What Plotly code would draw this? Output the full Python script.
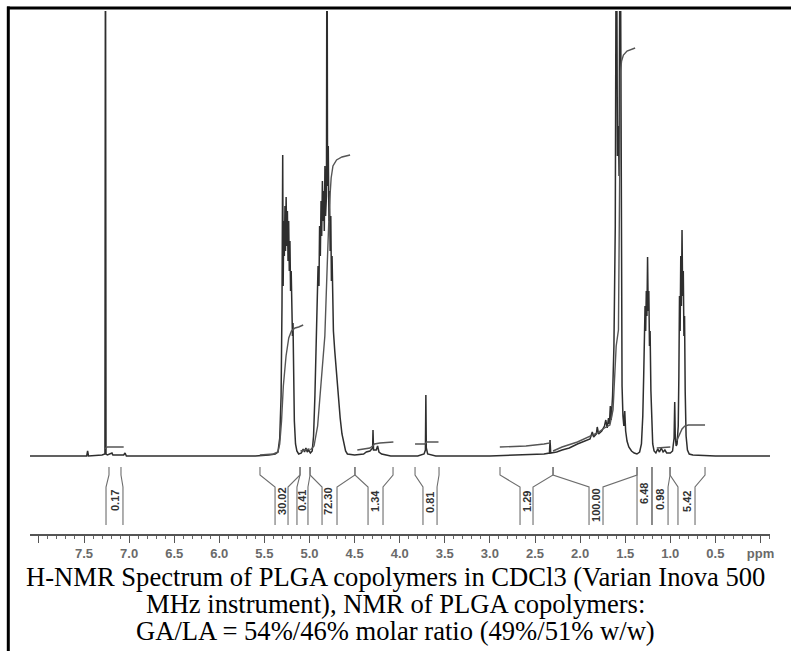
import plotly.graph_objects as go

# ---------------- data (ppm, intensity in arbitrary units, baseline = 0) ----------------
spec_ppm = [8.10, 7.50, 7.47, 7.46, 7.45, 7.30, 7.275, 7.268, 7.262, 7.256, 7.24, 7.20, 7.19, 7.18,
            7.06, 7.045, 7.03, 6.00, 5.60, 5.45, 5.38, 5.35, 5.33, 5.315, 5.305, 5.297, 5.292,
            5.285, 5.279, 5.272, 5.266, 5.259, 5.252, 5.245, 5.238, 5.231, 5.224, 5.217, 5.21,
            5.203, 5.196, 5.189, 5.183, 5.177, 5.168, 5.155, 5.14, 5.12, 5.09, 5.07, 5.055, 5.04,
            5.025, 5.01, 4.99, 4.97, 4.955, 4.94, 4.925, 4.915, 4.905, 4.895, 4.888, 4.88, 4.872,
            4.865, 4.857, 4.85, 4.843, 4.836, 4.829, 4.822, 4.812, 4.806, 4.80, 4.792, 4.785,
            4.778, 4.771, 4.764, 4.757, 4.75, 4.743, 4.735, 4.72, 4.70, 4.68, 4.66, 4.64, 4.62,
            4.60, 4.58, 4.50, 4.40, 4.37, 4.33, 4.30, 4.296, 4.29, 4.26, 4.245, 4.23, 4.20, 4.10,
            3.80, 3.73, 3.715, 3.71, 3.705, 3.69, 3.60, 3.00, 2.70, 2.50, 2.40, 2.34, 2.333, 2.326,
            2.26, 2.20, 2.12, 2.03, 1.95, 1.89, 1.865, 1.85, 1.82, 1.81, 1.795, 1.76, 1.73, 1.715,
            1.70, 1.685, 1.675, 1.665, 1.655, 1.64, 1.625, 1.61, 1.598, 1.586, 1.575, 1.568,
            1.556, 1.545, 1.535, 1.525, 1.515, 1.505, 1.495, 1.48, 1.46, 1.43, 1.40, 1.37, 1.34,
            1.32, 1.305, 1.295, 1.287, 1.28, 1.273, 1.266, 1.259, 1.252, 1.245, 1.238, 1.231,
            1.224, 1.215, 1.205, 1.195, 1.18, 1.16, 1.14, 1.12, 1.10, 1.08, 1.06, 1.04, 1.00,
            0.975, 0.958, 0.951, 0.945, 0.935, 0.925, 0.912, 0.905, 0.898, 0.891, 0.884, 0.877,
            0.870, 0.863, 0.856, 0.849, 0.842, 0.835, 0.825, 0.81, 0.79, 0.75, 0.50, -0.11]
spec_int = [0, 0, 0, 5, 0, 1, 2, 2, 600, 2, 1, 3, 3, 1,
            1, 3, 0, 0, 0, 1, 2, 4, 18, 60, 150, 301, 170,
            235, 200, 250, 205, 259, 210, 245, 195, 235, 185, 215, 165,
            185, 140, 120, 133, 70, 35, 12, 5, 2, 3, 7, 4, 8,
            4, 6, 3, 5, 20, 60, 110, 150, 190, 170, 230, 200, 255,
            220, 275, 235, 265, 225, 290, 240, 260, 600, 270, 310, 235,
            265, 205, 240, 175, 200, 140, 125, 105, 82, 58, 38, 22, 12,
            5, 2, 1, 2, 4, 5, 8, 26, 6, 6, 10, 4, 2, 0,
            0, 2, 6, 61, 8, 2, 0, 0, 1, 1, 2, 3, 16, 3,
            4, 6, 8, 12, 15, 17, 24, 19, 22, 29, 22, 25, 30, 36,
            28, 38, 32, 50, 36, 60, 110, 230, 600, 300, 330, 280,
            600, 170, 70, 40, 30, 45, 25, 15, 9, 5, 3, 2, 4,
            12, 40, 80, 130, 150, 125, 165, 140, 199, 145, 165, 110,
            125, 65, 30, 12, 5, 3, 7, 4, 8, 4, 6, 3, 3,
            5, 18, 54, 20, 10, 12, 30, 80, 160, 125, 200, 150,
            226, 160, 185, 120, 140, 65, 20, 6, 2, 1, 0, 0]

# integral curves (None separates regions)
integ_ppm = [7.275, 7.262, 7.24, 7.06, None,
             5.55, 5.40, 5.35, 5.33, 5.31, 5.29, 5.26, 5.23, 5.20, 5.16, 5.12, 5.07, None,
             5.10, 5.00, None,
             4.99, 4.95, 4.91, 4.87, 4.83, 4.80, 4.78, 4.76, 4.74, 4.70, 4.64, 4.55, None,
             4.47, 4.33, 4.30, 4.28, 4.22, 4.07, None,
             3.83, 3.72, 3.70, 3.57, None,
             2.89, 2.60, 2.40, 2.335, 2.33, None,
             2.30, 2.20, 2.03, 1.90, 1.81, 1.73, 1.67, 1.635, 1.62, 1.60, 1.575, 1.56, 1.552,
             1.54, 1.52, 1.48, 1.43, 1.39, None,
             1.15, 1.00, None,
             0.93, 0.90, 0.87, 0.84, 0.80, 0.615]
integ_int = [7, 8, 9, 9, None,
             1, 2, 4, 12, 35, 70, 100, 118, 125, 128, 129, 131, None,
             5, 7, None,
             6, 10, 30, 75, 120, 200, 250, 278, 290, 296, 299, 301, None,
             6, 8, 10, 12, 13, 14, None,
             12, 12, 14, 14, None,
             9, 10, 12, 13, 16, None,
             5, 9, 14, 19, 23, 28, 31, 46, 80, 110, 126, 300, 385,
             395, 401, 405, 407, 408, None,
             8, 9, None,
             15, 22, 27, 30, 31, 31]

# integration regions
int_labels = ["0.17", "30.02", "0.41", "72.30", "1.34", "0.81", "1.29", "100.00", "6.48", "0.98", "5.42"]
int_start = [7.223, 5.549, 5.105, 4.994, 4.496, 3.830, 2.888, 2.300, 1.369, 1.203, 1.003]
int_end = [7.090, 5.105, 4.994, 4.496, 4.074, 3.564, 2.300, 1.369, 1.203, 1.003, 0.615]
col_left = [7.256, 5.382, 5.139, 4.861, 4.351, 3.742, 2.666, 1.901, 1.369, 1.203, 0.915]
col_right = [7.068, 5.238, 5.017, 4.695, 4.185, 3.586, 2.522, 1.746, 1.203, 1.025, 0.726]
label_ppm = [7.156, 5.305, 5.083, 4.795, 4.274, 3.664, 2.589, 1.824, 1.292, 1.114, 0.815]

tick_vals = [8.0, 7.5, 7.0, 6.5, 6.0, 5.5, 5.0, 4.5, 4.0, 3.5, 3.0, 2.5, 2.0, 1.5, 1.0, 0.5, 0.0]
tick_text = ["", "7.5", "7.0", "6.5", "6.0", "5.5", "5.0", "4.5", "4.0", "3.5", "3.0", "2.5",
             "2.0", "1.5", "1.0", "0.5", "ppm"]

caption_lines = ["H-NMR Spectrum of PLGA copolymers in CDCl3 (Varian Inova 500",
                 "MHz instrument), NMR of PLGA copolymers:",
                 "GA/LA = 54%/46% molar ratio (49%/51% w/w)"]

# ---------------- layout geometry (pixels) ----------------
W, H = 791, 651
L, R, T, B = 30, 21, 11, 117
PW, PH = W - L - R, H - T - B
Y_LO, Y_HI = -78, 445

def px_x(px):  # page pixel -> paper x
    return (px - L) / PW

def px_y(py):  # page pixel -> paper y
    return (H - B - py) / PH

# bracket levels (in intensity units below baseline)
Y_TOP, Y_K1, Y_K2, Y_BOT = -11, -19, -31, -69

br_x, br_y = [], []
for s, e, cl, cr in zip(int_start, int_end, col_left, col_right):
    br_x += [s, s, cl, cl, None, e, e, cr, cr, None]
    br_y += [Y_TOP, Y_K1, Y_K2, Y_BOT, None, Y_TOP, Y_K1, Y_K2, Y_BOT, None]

fig = go.Figure()
fig.add_trace(go.Scatter(x=spec_ppm, y=spec_int, mode="lines",
                         line=dict(color="#2e2e2e", width=1.5), hoverinfo="skip"))
fig.add_trace(go.Scatter(x=integ_ppm, y=integ_int, mode="lines", connectgaps=False,
                         line=dict(color="#555555", width=1.4), hoverinfo="skip"))
fig.add_trace(go.Scatter(x=br_x, y=br_y, mode="lines", connectgaps=False,
                         line=dict(color="#6e6e6e", width=1.1), hoverinfo="skip"))

label_y = [-45, -45, -45, -45, -45, -47, -45, -49, -37, -44, -45]
for lab, xp, yv in zip(int_labels, label_ppm, label_y):
    fig.add_annotation(x=xp, y=yv, xref="x", yref="y", text=lab, showarrow=False,
                       textangle=-90,
                       font=dict(family="Liberation Sans, Arial", size=11, color="#333333", weight="bold"),
                       xanchor="center", yanchor="middle")

cap_y = [577, 604, 631]
for txt, cy in zip(caption_lines, cap_y):
    fig.add_annotation(x=px_x(395), y=px_y(cy), xref="paper", yref="paper", text=txt,
                       showarrow=False, xanchor="center", yanchor="middle",
                       font=dict(family="Liberation Serif, Times New Roman, serif", size=26.6, color="#000"))

# frame (left + top borders)
fig.add_shape(type="line", xref="paper", yref="paper", x0=px_x(8.3), x1=px_x(8.3),
              y0=px_y(6.5), y1=px_y(660), line=dict(color="#000", width=3))
fig.add_shape(type="line", xref="paper", yref="paper", x0=px_x(7), x1=px_x(800),
              y0=px_y(8), y1=px_y(8), line=dict(color="#000", width=3))

fig.update_layout(
    width=W, height=H, margin=dict(l=L, r=R, t=T, b=B, pad=0),
    paper_bgcolor="white", plot_bgcolor="white", showlegend=False,
    xaxis=dict(range=[8.0987, -0.1053], tickmode="array", tickvals=tick_vals, ticktext=tick_text,
               showgrid=False, zeroline=False, showline=True, linecolor="#555", linewidth=1.5,
               ticks="outside", ticklen=7, tickwidth=1.2, tickcolor="#555",
               tickfont=dict(family="Liberation Sans, Arial", size=13, color="#6a6a6a", weight="bold"),
               minor=dict(tickmode="linear", tick0=0, dtick=0.1, ticks="outside", ticklen=3,
                          tickcolor="#666", tickwidth=1)),
    yaxis=dict(range=[Y_LO, Y_HI], visible=False),
)

fig.write_html("out.html", config={"displayModeBar": False},
               post_script="document.body.style.margin='0';document.body.style.overflow='hidden';")
